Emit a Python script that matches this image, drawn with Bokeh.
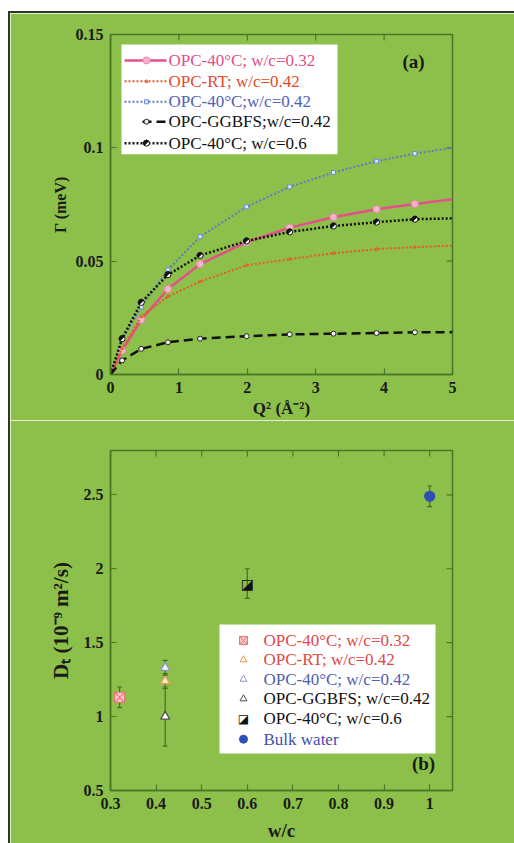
import math
from bokeh.plotting import figure
from bokeh.layouts import column
from bokeh.models import FixedTicker, Range1d, CustomJSTickFormatter
from bokeh.core.properties import value
from bokeh.embed import file_html
from bokeh.resources import INLINE

# ---------------- data: panel (a) ----------------
q2_line = [0.0, 0.17, 0.45, 0.84, 1.31, 1.99, 2.62, 3.26, 3.89, 4.45, 5.0]
g_opc40_032 = [0.0, 0.0106, 0.0242, 0.0377, 0.0487, 0.0584, 0.0648, 0.0694, 0.0729, 0.0752, 0.0773]
g_rt_042 = [0.0, 0.0115, 0.0255, 0.0344, 0.0410, 0.0482, 0.0509, 0.0535, 0.0553, 0.0562, 0.0569]
g_opc40_042 = [0.0, 0.0154, 0.0298, 0.0462, 0.0608, 0.0740, 0.0828, 0.0891, 0.0941, 0.0975, 0.1000]
g_ggbfs_042 = [0.0, 0.0062, 0.0113, 0.0142, 0.0158, 0.0169, 0.0177, 0.0180, 0.0183, 0.0186, 0.0187]
g_opc40_06 = [0.0, 0.0158, 0.0318, 0.0440, 0.0525, 0.0589, 0.0629, 0.0655, 0.0672, 0.0685, 0.0689]
labels_a = ["OPC-40°C; w/c=0.32", "OPC-RT; w/c=0.42", "OPC-40°C;w/c=0.42",
            "OPC-GGBFS;w/c=0.42", "OPC-40°C; w/c=0.6"]
xticks_a = [0, 1, 2, 3, 4, 5]
yticks_a = [0, 0.05, 0.1, 0.15]

# ---------------- data: panel (b) ----------------
wc = [0.32, 0.42, 0.42, 0.42, 0.60, 1.00]
dt = [1.13, 1.24, 1.33, 1.00, 1.90, 2.49]
dt_err = [0.07, 0.05, 0.05, 0.20, 0.10, 0.07]
labels_b = ["OPC-40°C; w/c=0.32", "OPC-RT; w/c=0.42", "OPC-40°C; w/c=0.42",
            "OPC-GGBFS; w/c=0.42", "OPC-40°C; w/c=0.6", "Bulk water"]
xticks_b = [0.3, 0.4, 0.5, 0.6, 0.7, 0.8, 0.9, 1.0]
yticks_b = [0.5, 1.0, 1.5, 2.0, 2.5]

GREEN = "#8cc04a"
AXC = "#4b7628"
SERIF = "Liberation Serif"
FMT = CustomJSTickFormatter(code="return String(Math.round(tick*1000)/1000)")
TICK = 6  # px


def style(p, xt, yt, x0, x1, y0, y1, fw, fh):
    p.background_fill_color = GREEN
    p.border_fill_color = GREEN
    p.outline_line_color = AXC
    p.outline_line_width = 1.5
    p.xgrid.visible = False
    p.ygrid.visible = False
    p.xaxis.ticker = FixedTicker(ticks=xt)
    p.yaxis.ticker = FixedTicker(ticks=yt)
    for ax in list(p.xaxis) + list(p.yaxis):
        ax.formatter = FMT
        ax.axis_line_color = AXC
        ax.axis_line_width = 1.5
        ax.major_tick_line_color = AXC
        ax.major_tick_line_width = 1.2
        ax.major_tick_in = TICK
        ax.major_tick_out = 0
        ax.minor_tick_line_color = None
        ax.major_label_text_font = SERIF
        ax.major_label_text_font_style = "bold"
        ax.major_label_text_font_size = "16px"
        ax.major_label_text_color = "#1a1a1a"
        ax.major_label_standoff = 7
        ax.axis_label_text_font = SERIF
        ax.axis_label_text_font_style = "bold"
        ax.axis_label_text_color = "#1a1a1a"
    # inward ticks on the top and right edges of the frame
    dy = TICK / fh * (y1 - y0)
    dx = TICK / fw * (x1 - x0)
    p.segment(xt, [y1] * len(xt), xt, [y1 - dy] * len(xt), line_color=AXC, line_width=1.2)
    p.segment([x1] * len(yt), yt, [x1 - dx] * len(yt), yt, line_color=AXC, line_width=1.2)


# ---------------- panel (a) ----------------
XA0, XA1, YA0, YA1 = 0.0, 5.0, 0.0, 0.15
FWA, FHA = 342, 341
pa = figure(width=504, height=407, x_range=Range1d(XA0, XA1), y_range=Range1d(YA0, YA1),
            min_border_left=100, min_border_right=62, min_border_top=21, min_border_bottom=45,
            output_backend="svg", toolbar_location=None)
style(pa, xticks_a, yticks_a, XA0, XA1, YA0, YA1, FWA, FHA)
pa.below[0].axis_label = "Q² (Å⁻²)"
pa.left[0].axis_label = "Γ (meV)"
pa.below[0].axis_label_text_font_size = "17px"
pa.left[0].axis_label_text_font_size = "16px"
pa.below[0].axis_label_standoff = 3
pa.left[0].axis_label_standoff = 4


def ax_(px):  # frame pixel -> data (panel a)
    return XA0 + px / FWA * (XA1 - XA0)


def ay_(py):  # frame pixel from top -> data
    return YA1 - py / FHA * (YA1 - YA0)


series_a = [
    (g_opc40_032, "#e4508a", "solid", 2.5, "circle", 7, "#f6b5cc", "#f08ab0", "#e0508a"),
    (g_rt_042, "#e45a2a", "2 2", 2, "triangle", 3, "#f08050", "#e45a2a", "#e04a2a"),
    (g_opc40_042, "#5a7cc4", "2 2", 2, "square", 4, "#d8e8f8", "#6a8cd0", "#5060b8"),
    (g_ggbfs_042, "#111111", "9 5", 2.5, "circle", 5, "#f0f0f0", "#222222", "#111111"),
    (g_opc40_06, "#111111", "2 2", 2.5, "circle", 6, "#ffffff", "#111111", "#111111"),
]
for ys, lc, dash, lw, mk, ms, mf, ml, tc in series_a:
    pa.line(q2_line, ys, line_color=lc, line_dash=dash, line_width=lw)
    pa.scatter(q2_line[1:-1], ys[1:-1], marker=mk, size=ms, fill_color=mf, line_color=ml,
               line_width=1)
pa.wedge(q2_line[1:-1], g_opc40_06[1:-1], radius=3, radius_units="screen",
         start_angle=math.pi / 4, end_angle=5 * math.pi / 4, color="#111111")

# legend (a)
pa.quad(left=ax_(11), right=ax_(227), top=ay_(10), bottom=ay_(120), fill_color="white",
        line_color=None)
rows_a = [26, 47, 67.5, 87.5, 109]
for i, (ys, lc, dash, lw, mk, ms, mf, ml, tc) in enumerate(series_a):
    yy = ay_(rows_a[i])
    x0 = 14 if i != 3 else 32
    pa.line([ax_(x0), ax_(56)], [yy, yy], line_color=lc, line_dash=dash, line_width=lw)
    pa.scatter([ax_(36)], [yy], marker=mk, size=ms, fill_color=mf, line_color=ml, line_width=1)
    if i == 4:
        pa.wedge([ax_(36)], [yy], radius=3, radius_units="screen", start_angle=math.pi / 4,
                 end_angle=5 * math.pi / 4, color="#111111")
    pa.text([ax_(58)], [yy], text=[labels_a[i]], text_font=value(SERIF), text_font_size="17px",
            text_color=tc, text_baseline="middle", text_align="left")
pa.text([ax_(303)], [ay_(27)], text=["(a)"], text_font=value(SERIF), text_font_size="19px",
        text_font_style="bold", text_color="#1a1a1a", text_align="center", text_baseline="middle")

# ---------------- panel (b) ----------------
XB0, XB1, YB0, YB1 = 0.3, 1.05, 0.5, 2.8
FWB, FHB = 342, 340
pb = figure(width=504, height=423, x_range=Range1d(XB0, XB1), y_range=Range1d(YB0, YB1),
            min_border_left=100, min_border_right=62, min_border_top=30, min_border_bottom=53,
            output_backend="svg", toolbar_location=None)
style(pb, xticks_b, yticks_b, XB0, XB1, YB0, YB1, FWB, FHB)
pb.below[0].axis_label = "w/c"
pb.left[0].axis_label = "Dₜ (10⁻⁹ m²/s)"
pb.below[0].axis_label_text_font_size = "19px"
pb.left[0].axis_label_text_font_size = "21px"
pb.below[0].axis_label_standoff = 8
pb.left[0].axis_label_standoff = 8


def bx_(px):
    return XB0 + px / FWB * (XB1 - XB0)


def by_(py):
    return YB1 - py / FHB * (YB1 - YB0)


ERRC = "#4a6a2c"
lo = [d - e for d, e in zip(dt, dt_err)]
hi = [d + e for d, e in zip(dt, dt_err)]
pb.segment(wc, lo, wc, hi, line_color=ERRC, line_width=1.2)
pb.scatter(wc + wc, lo + hi, marker="dash", size=5, line_color=ERRC, line_width=1.2)

marks_b = [
    ("square_x", 10, "#f7c6c8", "#e87878", "#e04848"),
    ("triangle", 9, "#fbead8", "#ee9a50", "#e04848"),
    ("triangle", 9, "#f4f6ff", "#8a98c8", "#5060b0"),
    ("triangle", 9, "#ffffff", "#4a4a4a", "#111111"),
    (None, 0, None, None, "#111111"),
    ("circle", 10, "#2f4fb8", "#2f4fb8", "#4050a8"),
]
for i, (mk, ms, mf, ml, tc) in enumerate(marks_b):
    if mk is None:
        pb.text([wc[i]], [dt[i]], text=["◪"], text_font=value("DejaVu Sans"),
                text_font_size="14px", text_color="#111111", text_align="center",
                text_baseline="middle")
    else:
        pb.scatter([wc[i]], [dt[i]], marker=mk, size=ms, fill_color=mf, line_color=ml,
                   line_width=1.2)

# legend (b)
pb.quad(left=bx_(109), right=bx_(325), top=by_(174), bottom=by_(303), fill_color="white",
        line_color=None)
rows_b = [190, 209.3, 228.7, 248.3, 268.3, 288.7]
for i, (mk, ms, mf, ml, tc) in enumerate(marks_b):
    yy = by_(rows_b[i])
    if mk is None:
        pb.text([bx_(133)], [yy], text=["◪"], text_font=value("DejaVu Sans"),
                text_font_size="12px", text_color="#111111", text_align="center",
                text_baseline="middle")
    else:
        pb.scatter([bx_(133)], [yy], marker=mk, size=ms - 2,
                   fill_color="white" if mk == "triangle" else mf,
                   line_color=ml, line_width=1)
    pb.text([bx_(153)], [yy], text=[labels_b[i]], text_font=value(SERIF), text_font_size="17px",
            text_color=tc, text_baseline="middle", text_align="left")
pb.text([bx_(313)], [by_(313)], text=["(b)"], text_font=value(SERIF), text_font_size="19px",
        text_font_style="bold", text_color="#1a1a1a", text_align="center", text_baseline="middle")

root = column(pa, pb, spacing=0, margin=(11, 0, 0, 8),
              styles={"border-top": "2px solid #2e3a26", "border-left": "2px solid #2e3a26"})
open("out.html", "w").write(file_html(root, INLINE))
